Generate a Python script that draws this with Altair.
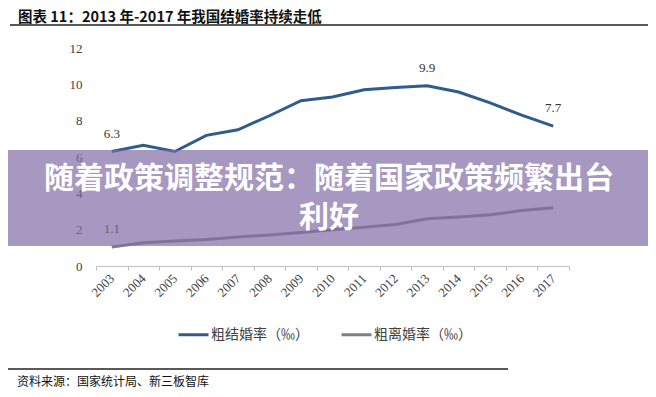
import altair as alt
import pandas as pd

years = [str(y) for y in range(2003, 2018)]
marriage = [6.3, 6.65, 6.3, 7.19, 7.5, 8.27, 9.1, 9.3, 9.7, 9.83, 9.92, 9.58, 8.98, 8.3, 7.7]
divorce = [1.05, 1.28, 1.37, 1.46, 1.59, 1.71, 1.85, 2.0, 2.13, 2.29, 2.6, 2.7, 2.82, 3.05, 3.2]
series_names = ["粗结婚率（‰）", "粗离婚率（‰）"]
series_colors = ["#2E5C8C", "#808080"]
label_years = ["2003", "2013", "2017", "2003"]
label_series = ["粗结婚率（‰）", "粗结婚率（‰）", "粗结婚率（‰）", "粗离婚率（‰）"]
label_values = [6.3, 9.9, 7.7, 1.1]
y_ticks = [0, 2, 4, 6, 8, 10, 12]
title_text = "图表 11：2013 年-2017 年我国结婚率持续走低"
source_text = "资料来源：国家统计局、新三板智库"
banner_lines = ["随着政策调整规范：随着国家政策频繁出台", "利好"]

rows = []
for name, vals in zip(series_names, [marriage, divorce]):
    for y, v in zip(years, vals):
        rows.append({"year": y, "series": name, "value": v})
df = pd.DataFrame(rows)

lookup = {series_names[0]: dict(zip(years, marriage)), series_names[1]: dict(zip(years, divorce))}
lab_df = pd.DataFrame({
    "year": label_years,
    "series": label_series,
    "label": label_values,
    "value": [lookup[s][y] for y, s in zip(label_years, label_series)],
})

W, H = 473, 218
serif = "Liberation Serif"
cjk = "Noto Sans CJK SC"

x_axis = alt.Axis(title=None, labelAngle=-45, labelAlign="right",
                  labelBaseline="middle", labelFont=serif, labelFontSize=13,
                  labelColor="#404040", domainColor="#BFBFBF", tickColor="#BFBFBF",
                  tickBand="extent", tickSize=4, labelPadding=6, grid=False,
                  labelOverlap=False)
y_axis = alt.Axis(title=None, values=y_ticks, domain=False,
                  ticks=False, grid=False, labelFont=serif, labelFontSize=13,
                  labelColor="#404040", labelPadding=14, labelOverlap=False)
x_scale = alt.Scale(paddingInner=0, paddingOuter=0)
y_scale = alt.Scale(domain=[0, 12], nice=False)

lines = alt.Chart(df).mark_line(strokeWidth=3).encode(
    x=alt.X("year:O", sort=years, scale=x_scale, axis=x_axis),
    y=alt.Y("value:Q", scale=y_scale, axis=y_axis),
    color=alt.Color("series:N", scale=alt.Scale(domain=series_names, range=series_colors),
                    legend=alt.Legend(title=None, orient="none", legendX=81, legendY=270,
                                      direction="horizontal", symbolType="stroke",
                                      symbolStrokeWidth=3, symbolSize=900,
                                      labelFont=cjk, labelFontSize=14, labelColor="#404040",
                                      labelOffset=1, columnPadding=26)),
)

labels = alt.Chart(lab_df).mark_text(dy=-18, font=serif, fontSize=13, color="#333333").encode(
    x=alt.X("year:O", sort=years, scale=x_scale, axis=x_axis),
    y=alt.Y("value:Q", scale=y_scale, axis=y_axis),
    text=alt.Text("label:Q", format=".1f"))

title = alt.Chart(pd.DataFrame({"t": [title_text]})).mark_text(
    align="left", baseline="alphabetic", font=cjk, fontSize=14.5, fontWeight="bold", color="#111111"
).encode(x=alt.value(-78), y=alt.value(-26), text="t:N")

title_rule = alt.Chart(pd.DataFrame({"a": [0]})).mark_rule(color="#222222", strokeWidth=1.5).encode(
    x=alt.value(-86), x2=alt.value(552), y=alt.value(-23))

src_rule = alt.Chart(pd.DataFrame({"a": [0]})).mark_rule(color="#222222", strokeWidth=1.5).encode(
    x=alt.value(-88), x2=alt.value(412), y=alt.value(321))

src = alt.Chart(pd.DataFrame({"t": [source_text]})).mark_text(
    align="left", baseline="middle", font=cjk, fontSize=12, color="#111111"
).encode(x=alt.value(-79), y=alt.value(334), text="t:N")

overlay = alt.Chart(pd.DataFrame({"a": [0]})).mark_rect(color="#806CA5", opacity=0.7).encode(
    x=alt.value(-88), x2=alt.value(552), y=alt.value(102), y2=alt.value(198))

banner1 = alt.Chart(pd.DataFrame({"t": [banner_lines[0]]})).mark_text(
    align="center", baseline="middle", font=cjk, fontSize=30, fontWeight="bold", color="white"
).encode(x=alt.value(233), y=alt.value(131), text="t:N")
banner2 = alt.Chart(pd.DataFrame({"t": [banner_lines[1]]})).mark_text(
    align="center", baseline="middle", font=cjk, fontSize=30, fontWeight="bold", color="white"
).encode(x=alt.value(233), y=alt.value(170), text="t:N")

chart = alt.layer(lines, labels, title, title_rule, src_rule, src, overlay, banner1, banner2).properties(
    width=W, height=H, autosize="none",
    padding={"left": 88, "top": 40, "right": 79, "bottom": 123},
    background="white",
).configure_view(stroke=None)

chart.save("out.html", embed_options={"renderer": "svg", "actions": False})
